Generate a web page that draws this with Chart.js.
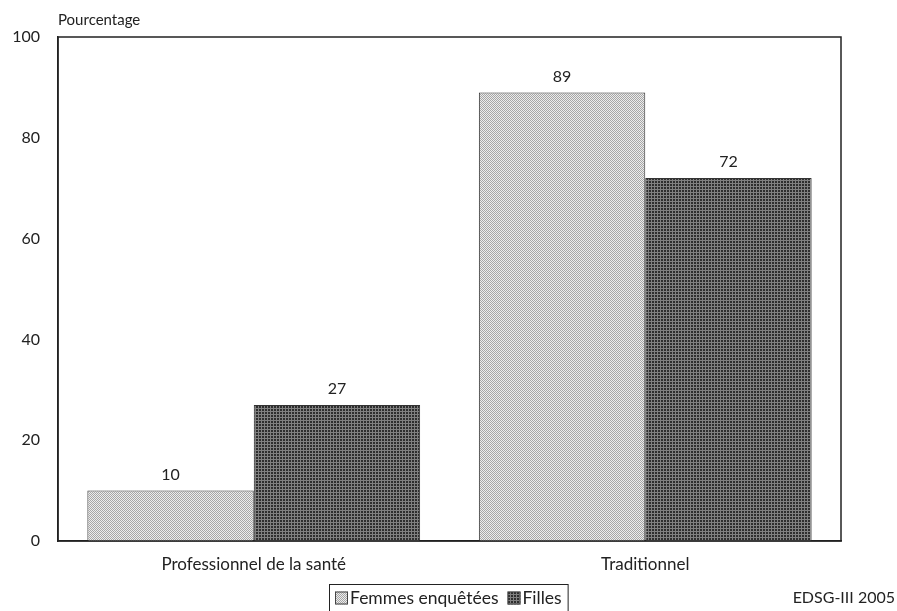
<!DOCTYPE html>
<html>
<head>
<meta charset="utf-8">
<script src="https://cdn.jsdelivr.net/npm/chart.js@4.4.1/dist/chart.umd.min.js"></script>
<style>
  html, body { margin: 0; padding: 0; background: #fff; }
  #wrap { width: 897px; height: 611px; position: relative; }
</style>
</head>
<body>
<div id="wrap"><canvas id="chart"></canvas></div>
<script>
const categories = ["Professionnel de la santé", "Traditionnel"];
const femmes = [10, 89];
const filles = [27, 72];
const seriesNames = ["Femmes enquêtées", "Filles"];
const yTicks = [0, 20, 40, 60, 80, 100];
const yTitle = "Pourcentage";
const source = "EDSG-III 2005";

const FONT = "Lato, 'Open Sans', sans-serif";
const INK = "#222";

function makePattern(size, draw) {
  const c = document.createElement("canvas");
  c.width = size; c.height = size;
  const g = c.getContext("2d");
  draw(g);
  return g.createPattern(c, "repeat");
}

// light stipple
const lightPat = makePattern(2, g => {
  g.fillStyle = "#ececec"; g.fillRect(0, 0, 2, 2);
  g.fillStyle = "#a6a6a6"; g.fillRect(0, 0, 1, 1); g.fillRect(1, 1, 1, 1);
});
// dark grid
const darkPat = makePattern(3, g => {
  g.fillStyle = "#2e2e2e"; g.fillRect(0, 0, 3, 3);
  g.fillStyle = "#808080"; g.fillRect(0, 0, 3, 1); g.fillRect(0, 0, 1, 3);
});

const extras = {
  id: "extras",
  afterDraw(chart) {
    const ctx = chart.ctx;
    const a = chart.chartArea;
    ctx.save();
    // plot frame
    ctx.strokeStyle = INK;
    ctx.lineWidth = 1.5;
    ctx.strokeRect(a.left, a.top, a.right - a.left, a.bottom - a.top);

    // value labels
    ctx.fillStyle = INK;
    ctx.font = "16px " + FONT;
    ctx.textAlign = "center";
    ctx.textBaseline = "middle";
    chart.data.datasets.forEach((ds, i) => {
      chart.getDatasetMeta(i).data.forEach((bar, j) => {
        ctx.fillText(ds.data[j], bar.x, bar.y - 16);
      });
    });

    // y title
    ctx.font = "15px " + FONT;
    ctx.textAlign = "left";
    ctx.fillText(yTitle, a.left, 20);

    // source
    ctx.font = "16px " + FONT;
    ctx.textAlign = "right";
    ctx.fillText(source, 895, 598);

    // legend
    ctx.font = "17.5px " + FONT;
    const box = 13, gap = 2, itemGap = 9, padX = 6;
    const widths = chart.data.datasets.map(ds => box + gap + ctx.measureText(ds.label).width);
    const total = widths.reduce((s, w) => s + w, 0) + itemGap * (widths.length - 1) + padX * 2;
    const lx = Math.round(chart.width / 2 - total / 2);
    const ly = 584, lh = 30;
    ctx.lineWidth = 1;
    ctx.strokeStyle = INK;
    ctx.strokeRect(lx + 0.5, ly + 0.5, total, lh);
    let x = lx + padX;
    const cy = ly + 14;
    chart.data.datasets.forEach((ds, i) => {
      ctx.fillStyle = ds.backgroundColor;
      ctx.fillRect(x, cy - box / 2, box, box);
      ctx.strokeStyle = "#444";
      ctx.strokeRect(x + 0.5, cy - box / 2 + 0.5, box - 1, box - 1);
      ctx.fillStyle = INK;
      ctx.textAlign = "left";
      ctx.fillText(ds.label, x + box + gap, cy);
      x += widths[i] + itemGap;
    });
    ctx.restore();
  }
};

new Chart(document.getElementById("chart"), {
  type: "bar",
  data: {
    labels: categories,
    datasets: [
      { label: seriesNames[0], data: femmes, backgroundColor: lightPat, borderColor: "#333", borderWidth: 1 },
      { label: seriesNames[1], data: filles, backgroundColor: darkPat, borderColor: "#333", borderWidth: 1 }
    ]
  },
  options: {
    responsive: true,
    maintainAspectRatio: false,
    animation: false,
    devicePixelRatio: 1,
    layout: { padding: { top: 37, right: 56, left: 0, bottom: 0 } },
    datasets: { bar: { categoryPercentage: 0.85, barPercentage: 1.0 } },
    plugins: { legend: { display: false }, tooltip: { enabled: false } },
    scales: {
      x: {
        grid: { display: false, drawTicks: false },
        border: { display: true, color: INK, width: 1.5 },
        ticks: { color: INK, font: { family: FONT, size: 17 }, padding: 13, maxRotation: 0 },
        afterFit(s) { s.height = 70; }
      },
      y: {
        min: 0, max: 100,
        grid: { display: false, drawTicks: false },
        border: { display: true, color: INK, width: 1.5 },
        afterBuildTicks(s) { s.ticks = yTicks.map(v => ({ value: v })); },
        ticks: { color: INK, font: { family: FONT, size: 16 }, padding: 18 },
        afterFit(s) { s.width = 58; }
      }
    }
  },
  plugins: [extras]
});
</script>
</body>
</html>
